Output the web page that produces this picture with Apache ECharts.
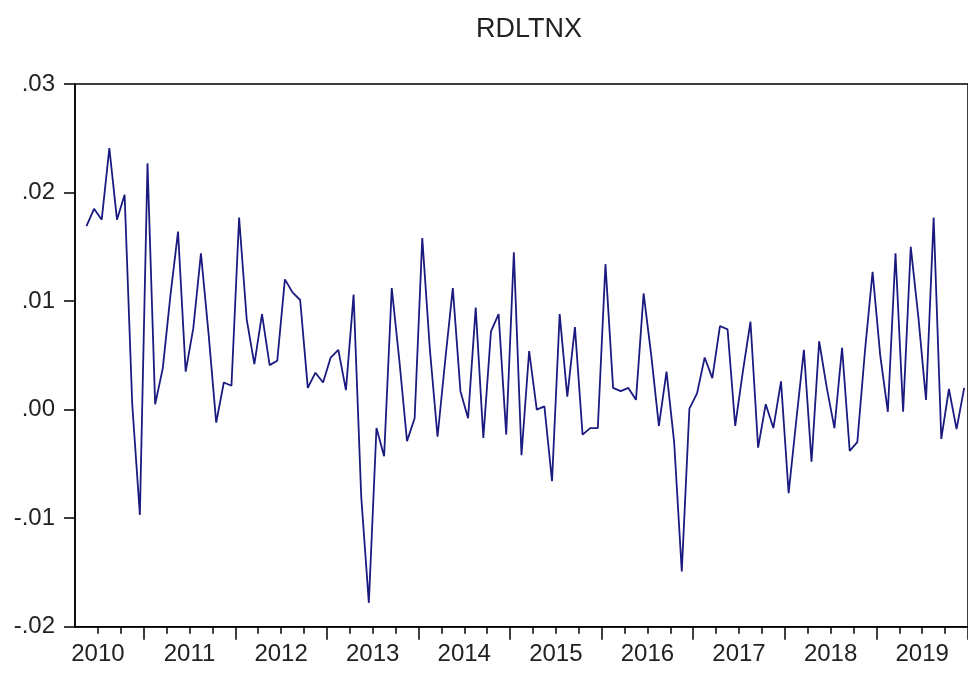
<!DOCTYPE html>
<html>
<head>
<meta charset="utf-8">
<title>RDLTNX</title>
<script src="https://cdn.jsdelivr.net/npm/echarts@6/dist/echarts.min.js"></script>
<style>
  html, body { margin: 0; padding: 0; background: #fff; }
  #chart { width: 968px; height: 677px; }
</style>
</head>
<body>
<div id="chart"></div>
<script>
// monthly series, first observation 2010M05 (x axis counts months from 2010M04)
const rdltnx = [
  0.0169, 0.0185, 0.0175, 0.0241, 0.0175, 0.0198, 0.0005, -0.0097, 0.0227, 0.0005,
  0.0038, 0.0105, 0.0164, 0.0035, 0.0075, 0.0144, 0.0070, -0.0012, 0.0025, 0.0022,
  0.0177, 0.0083, 0.0042, 0.0088, 0.0041, 0.0045, 0.0120, 0.0108, 0.0101, 0.0020,
  0.0034, 0.0025, 0.0048, 0.0055, 0.0018, 0.0106, -0.0080, -0.0178, -0.0017, -0.0043,
  0.0112, 0.0045, -0.0029, -0.0008, 0.0158, 0.0055, -0.0025, 0.0045, 0.0112, 0.0017,
  -0.0008, 0.0094, -0.0026, 0.0072, 0.0088, -0.0023, 0.0145, -0.0042, 0.0054, 0.0000,
  0.0003, -0.0066, 0.0088, 0.0012, 0.0076, -0.0023, -0.0017, -0.0017, 0.0134, 0.0020,
  0.0017, 0.0020, 0.0009, 0.0107, 0.0050, -0.0015, 0.0035, -0.0030, -0.0149, 0.0001,
  0.0015, 0.0048, 0.0029, 0.0077, 0.0074, -0.0015, 0.0035, 0.0081, -0.0035, 0.0005,
  -0.0017, 0.0026, -0.0077, -0.0010, 0.0055, -0.0048, 0.0063, 0.0020, -0.0017, 0.0057,
  -0.0038, -0.0030, 0.0054, 0.0127, 0.0050, -0.0002, 0.0144, -0.0002, 0.0150, 0.0085,
  0.0009, 0.0177, -0.0027, 0.0019, -0.0018, 0.0020
];

const years = ['2010', '2011', '2012', '2013', '2014', '2015', '2016', '2017', '2018', '2019'];
const yTickText = ['-.02', '-.01', '.00', '.01', '.02', '.03'];

const monthsOnAxis = 117;            // 2010M04 .. 2019M12
const quarterTicks = [];             // short ticks every quarter (not on the long ones)
for (let m = 3; m < monthsOnAxis; m += 3) if ((m - 9) % 12 !== 0) quarterTicks.push(m);
const yearTicks = [];                // long ticks at January
for (let m = 9; m <= monthsOnAxis; m += 12) yearTicks.push(m);
const labelAt = years.map((y, k) => 3 + 12 * k); // year label mid-year

const points = rdltnx.map((v, i) => [i + 1.5, v]);

const font = "'Liberation Sans', Arial, sans-serif";
const tickStyle = { color: '#000', width: 1.5 };

const chart = echarts.init(document.getElementById('chart'), null, { renderer: 'canvas' });

chart.setOption({
  backgroundColor: '#ffffff',
  animation: false,
  title: {
    text: 'RDLTNX',
    left: 524,
    textAlign: 'center',
    top: 11,
    textStyle: { fontFamily: font, fontSize: 27, fontWeight: 'normal', color: '#222' }
  },
  grid: {
    left: 75,
    top: 84,
    width: 898.6,
    height: 542.7,
    show: true,
    borderColor: '#000',
    borderWidth: 1.5,
    backgroundColor: 'transparent'
  },
  xAxis: [
    {
      type: 'value',
      min: 0,
      max: monthsOnAxis,
      splitLine: { show: false },
      axisLine: { onZero: false, lineStyle: tickStyle },
      axisTick: { show: true, customValues: quarterTicks, length: 7, lineStyle: tickStyle },
      axisLabel: {
        customValues: labelAt,
        margin: 16,
        fontFamily: font,
        fontSize: 24,
        color: '#222',
        formatter: v => years[Math.round((v - 3) / 12)] || ''
      }
    },
    {
      // long ticks at each January
      type: 'value',
      position: 'bottom',
      min: 0,
      max: monthsOnAxis,
      splitLine: { show: false },
      axisLine: { show: false, onZero: false },
      axisTick: { show: true, customValues: yearTicks, length: 13, lineStyle: tickStyle },
      axisLabel: { show: false }
    }
  ],
  yAxis: {
    type: 'value',
    min: -0.02,
    max: 0.03,
    interval: 0.01,
    splitLine: { show: false },
    axisLine: { show: true, onZero: false, lineStyle: tickStyle },
    axisTick: { show: true, length: 11, lineStyle: tickStyle },
    axisLabel: {
      margin: 20,
      fontFamily: font,
      fontSize: 24,
      color: '#222',
      formatter: v => yTickText[Math.round(v * 100) + 2]
    }
  },
  series: [
    {
      type: 'line',
      xAxisIndex: 0,
      data: points,
      showSymbol: false,
      lineStyle: { color: '#1a1a80', width: 1.8 },
      clip: true
    }
  ]
});
</script>
</body>
</html>
